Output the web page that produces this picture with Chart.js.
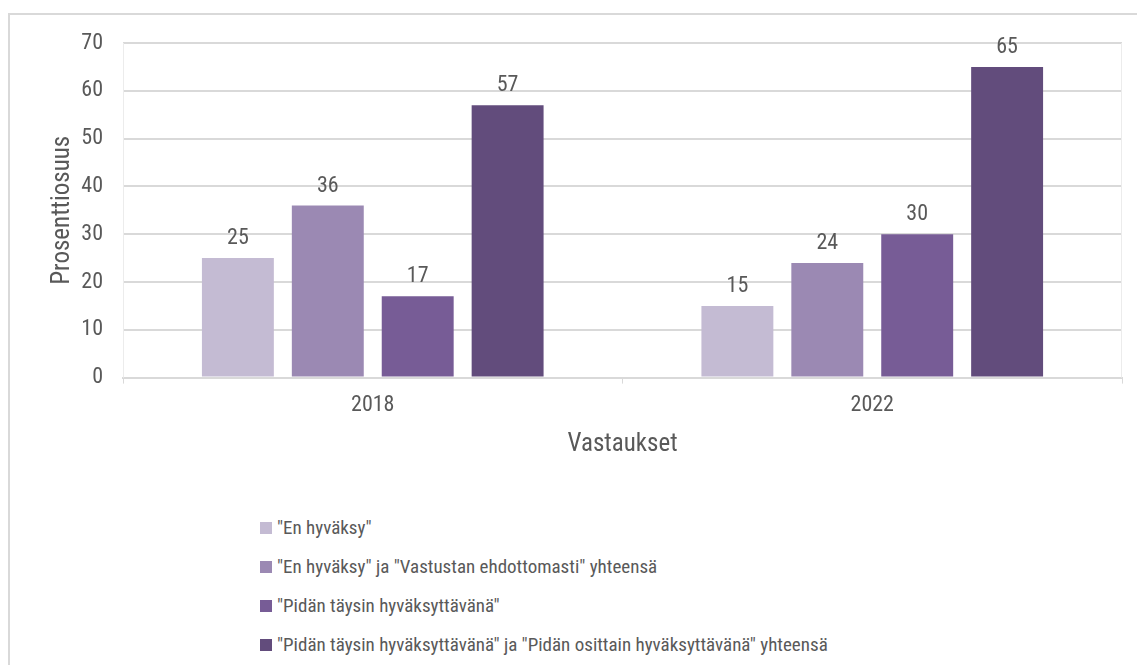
<!DOCTYPE html>
<html>
<head>
<meta charset="utf-8">
<script src="https://cdn.jsdelivr.net/npm/chart.js@4/dist/chart.umd.min.js"></script>
<style>
  body { margin: 0; background: #fff; font-family: 'Liberation Sans Narrow', 'Arial Narrow', 'Roboto Condensed', sans-serif; }
  #frame { position: absolute; left: 8px; top: 13px; width: 1300px; height: 800px; border-left: 2px solid #d9d9d9; border-top: 2px solid #d9d9d9; }
  #wrap { position: absolute; left: 0; top: 0; width: 1137px; height: 470px; }
  #legend { position: absolute; left: 260px; top: 515px; margin: 0; padding: 0; list-style: none; }
  #legend li { height: 39px; line-height: 26px; font-size: 19px; color: #595959; display: flex; align-items: flex-start; }
  #legend span.box { display: inline-block; width: 12px; height: 12px; margin: 7px 5px 0 0; flex: none; }
</style>
</head>
<body>
<div id="frame"></div>
<div id="wrap"><canvas id="chart"></canvas></div>
<ul id="legend"></ul>
<script>
var years = ['2018', '2022'];
var seriesNames = [
    '"En hyväksy"',
    '"En hyväksy" ja "Vastustan ehdottomasti" yhteensä',
    '"Pidän täysin hyväksyttävänä"',
    '"Pidän täysin hyväksyttävänä" ja "Pidän osittain hyväksyttävänä" yhteensä'
];
var enHyvaksy = [25, 15];
var enHyvaksyJaVastustan = [36, 24];
var taysinHyvaksyttava = [17, 30];
var taysinJaOsittain = [57, 65];
var colors = ['#c4bbd3', '#9b89b3', '#775c96', '#624c7c'];
var yTicks = [0, 10, 20, 30, 40, 50, 60, 70];

var fontFamily = "'Liberation Sans Narrow', 'Arial Narrow', 'Roboto Condensed', sans-serif";
var textColor = '#595959';

// labels above the bars
var valueLabels = {
    id: 'valueLabels',
    afterDatasetsDraw: function(chart) {
        var c = chart.ctx;
        c.save();
        c.font = '22px ' + fontFamily;
        c.fillStyle = textColor;
        c.textAlign = 'center';
        c.textBaseline = 'alphabetic';
        chart.data.datasets.forEach(function(ds, i) {
            chart.getDatasetMeta(i).data.forEach(function(bar, j) {
                c.fillText(ds.data[j], bar.x, bar.y - 14);
            });
        });
        c.restore();
    }
};

// light side edges of the plot area
var plotEdges = {
    id: 'plotEdges',
    beforeDatasetsDraw: function(chart) {
        var a = chart.chartArea, c = chart.ctx;
        c.save();
        c.strokeStyle = '#ececec';
        c.lineWidth = 1;
        c.beginPath();
        c.moveTo(Math.round(a.left) + 0.5, a.top);
        c.lineTo(Math.round(a.left) + 0.5, a.bottom);
        c.moveTo(Math.round(a.right) - 0.5, a.top);
        c.lineTo(Math.round(a.right) - 0.5, a.bottom);
        c.stroke();
        c.restore();
    }
};

var ctx = document.getElementById('chart');
var dataRows = [enHyvaksy, enHyvaksyJaVastustan, taysinHyvaksyttava, taysinJaOsittain];

var chart = new Chart(ctx, {
    type: 'bar',
    data: {
        labels: years,
        datasets: dataRows.map(function(row, i) {
            return {
                label: seriesNames[i],
                data: row,
                backgroundColor: colors[i],
                borderWidth: 0,
                barPercentage: 0.8,
                categoryPercentage: 0.72
            };
        })
    },
    options: {
        responsive: true,
        maintainAspectRatio: false,
        animation: false,
        layout: { padding: { top: 43, right: 15, bottom: 0, left: 0 } },
        plugins: {
            legend: { display: false },
            tooltip: { enabled: false }
        },
        scales: {
            x: {
                grid: {
                    offset: true,
                    drawOnChartArea: false,
                    color: '#d9d9d9',
                    tickLength: 6,
                    tickColor: '#d9d9d9'
                },
                border: { color: '#d9d9d9', width: 2 },
                ticks: { color: textColor, font: { family: fontFamily, size: 22 }, padding: 9 },
                title: {
                    display: true,
                    text: 'Vastaukset',
                    color: textColor,
                    font: { family: fontFamily, size: 25 },
                    padding: { top: 2, bottom: 10 }
                }
            },
            y: {
                min: 0,
                max: 70,
                afterBuildTicks: function(axis) {
                    axis.ticks = yTicks.map(function(v) { return { value: v }; });
                },
                afterFit: function(axis) { axis.width = 123; },
                grid: { color: '#d9d9d9', lineWidth: 2, drawTicks: false },
                border: { display: false },
                ticks: { color: textColor, font: { family: fontFamily, size: 22 }, padding: 20 },
                title: {
                    display: true,
                    text: 'Prosenttiosuus',
                    color: textColor,
                    font: { family: fontFamily, size: 25 },
                    padding: { top: 48, bottom: 0 }
                }
            }
        }
    },
    plugins: [valueLabels, plotEdges]
});

var legend = document.getElementById('legend');
chart.data.datasets.forEach(function(ds) {
    var li = document.createElement('li');
    var box = document.createElement('span');
    box.className = 'box';
    box.style.background = ds.backgroundColor;
    li.appendChild(box);
    li.appendChild(document.createTextNode(ds.label));
    legend.appendChild(li);
});
</script>
</body>
</html>
